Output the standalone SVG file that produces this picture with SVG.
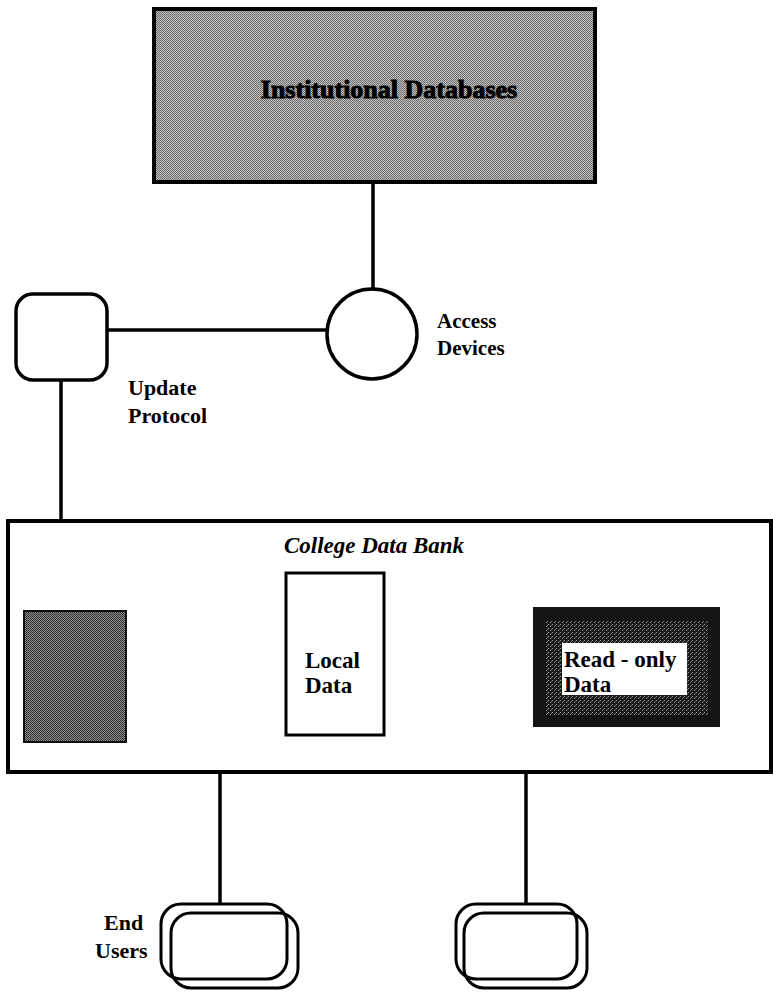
<svg xmlns="http://www.w3.org/2000/svg" width="773" height="994" viewBox="0 0 773 994">
<style>
  .lbl { font-family: "Liberation Serif", "Times New Roman", serif; font-weight: bold; font-size: 21px; fill: #000; }
  .ln { stroke: #000; stroke-width: 3.5; fill: none; }
  .box { stroke: #000; stroke-width: 4; }
  .ru { fill: none; stroke: #000; stroke-width: 3; }
</style>
<defs>
  <pattern id="dither" width="2" height="2" patternUnits="userSpaceOnUse">
    <rect width="2" height="2" fill="#c0c0c0"/>
    <rect width="1" height="1" fill="#686868"/>
    <rect x="1" y="1" width="1" height="1" fill="#747474"/>
  </pattern>
  <pattern id="dark" width="2" height="2" patternUnits="userSpaceOnUse">
    <rect width="2" height="2" fill="#8a8a8a"/>
    <rect width="1" height="1" fill="#2e2e2e"/>
    <rect x="1" y="1" width="1" height="1" fill="#3a3a3a"/>
  </pattern>
  <pattern id="speck" width="4" height="4" patternUnits="userSpaceOnUse">
    <rect width="4" height="4" fill="#1c1c1c"/>
    <rect x="0" y="0" width="1" height="1" fill="#9a9a9a"/>
    <rect x="2" y="2" width="1" height="1" fill="#8a8a8a"/>
    <rect x="3" y="1" width="1" height="1" fill="#707070"/>
  </pattern>
</defs>

<g id="connectors">
  <line class="ln" x1="373" y1="182" x2="373" y2="290"/>
  <line class="ln" x1="107" y1="330" x2="327" y2="330"/>
  <line class="ln" x1="61" y1="380" x2="61" y2="612"/>
  <line class="ln" x1="220" y1="772" x2="220" y2="904"/>
  <line class="ln" x1="526" y1="772" x2="526" y2="904"/>
</g>

<g id="institutional-databases">
  <rect class="box" x="154" y="9" width="441" height="173" fill="url(#dither)"/>
  <text x="389" y="98" text-anchor="middle" font-family="'Liberation Serif', 'Times New Roman', serif" font-weight="bold" font-size="26" stroke="#000" stroke-width="1">Institutional Databases</text>
</g>

<g id="access-devices">
  <circle cx="372" cy="334" r="45" fill="#fff" stroke="#000" stroke-width="3.5"/>
  <text class="lbl" x="437" y="328" font-size="20">Access</text>
  <text class="lbl" x="437" y="355" font-size="20">Devices</text>
</g>

<g id="update-protocol">
  <rect x="16" y="294" width="91" height="86" rx="17" fill="#fff" stroke="#000" stroke-width="3.5"/>
  <text class="lbl" x="128" y="395" style="font-size:22px">Update</text>
  <text class="lbl" x="128" y="423" style="font-size:22px">Protocol</text>
</g>

<g id="college-data-bank">
  <rect class="box" x="8" y="521" width="763" height="251" fill="#fff"/>
  <text x="374" y="553" text-anchor="middle" font-family="'Liberation Serif', 'Times New Roman', serif" font-weight="bold" font-style="italic" font-size="23">College Data Bank</text>
</g>

<g id="update-store">
  <rect x="24" y="611" width="102" height="131" fill="url(#dark)" stroke="#111" stroke-width="2"/>
</g>

<g id="local-data">
  <rect x="286" y="573" width="98" height="162" fill="#fff" stroke="#000" stroke-width="3"/>
  <text class="lbl" x="305" y="668" style="font-size:23px">Local</text>
  <text class="lbl" x="305" y="693" style="font-size:23px">Data</text>
</g>

<g id="read-only-data">
  <rect x="533" y="607" width="187" height="120" fill="#141414"/>
  <rect x="546" y="621" width="162" height="94" fill="url(#speck)"/>
  <rect x="562" y="643" width="125" height="52" fill="#fff"/>
  <text class="lbl" x="564" y="667" style="font-size:23px">Read - only</text>
  <text class="lbl" x="564" y="692" style="font-size:23px">Data</text>
</g>

<g id="end-users-1">
  <rect class="ru" x="161" y="904" width="126" height="75" rx="20"/>
  <rect class="ru" x="171" y="913" width="127" height="75" rx="20"/>
  <text class="lbl" x="104" y="930" style="font-size:22px">End</text>
  <text class="lbl" x="95" y="958" style="font-size:22px">Users</text>
</g>

<g id="end-users-2">
  <rect class="ru" x="456" y="904" width="121" height="75" rx="20"/>
  <rect class="ru" x="464" y="913" width="123" height="75" rx="20"/>
</g>
</svg>
